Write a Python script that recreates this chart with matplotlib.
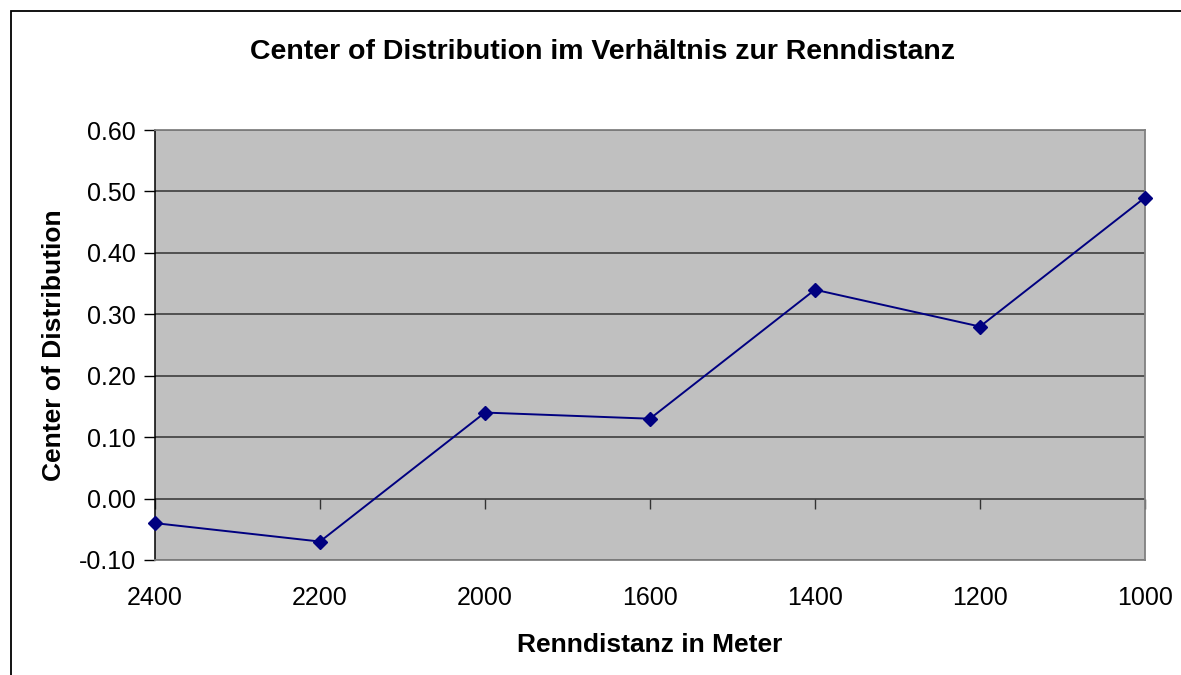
import matplotlib
matplotlib.use("Agg")
import matplotlib.pyplot as plt
from matplotlib.patches import Rectangle

# data
distances = ["2400", "2200", "2000", "1600", "1400", "1200", "1000"]
center = [-0.04, -0.07, 0.14, 0.13, 0.34, 0.28, 0.49]
y_ticks = [-0.1, 0.0, 0.1, 0.2, 0.3, 0.4, 0.5, 0.6]

plt.rcParams['font.family'] = ['Liberation Sans', 'DejaVu Sans']

fig = plt.figure(figsize=(11.81, 6.75), dpi=100)
ax = fig.add_axes([0.1312, 0.1704, 0.8383, 0.637])

# outer chart border (runs off the right and bottom edge)
fig.patches.append(Rectangle((11 / 1181, -0.1), 1.2, 1 - 11 / 675 + 0.1,
                             transform=fig.transFigure, fill=False,
                             edgecolor='black', linewidth=1.3))

ax.set_facecolor('#c0c0c0')
x = list(range(len(distances)))
ax.plot(x, center, color='#000080', linewidth=1.4, marker='D',
        markersize=7, markerfacecolor='#000080', markeredgecolor='#000080',
        clip_on=False, zorder=5)

ax.set_xlim(0, len(distances) - 1)
ax.set_ylim(-0.1, 0.6)
ax.set_yticks(y_ticks)
ax.set_yticklabels([f"{v:.2f}" for v in y_ticks])
ax.yaxis.grid(True, color='#333333', linewidth=1.1)
ax.set_axisbelow(True)

ax.set_xticks(x)
ax.set_xticklabels(distances)
ax.tick_params(axis='x', length=0, pad=19, labelsize=18)
ax.tick_params(axis='y', length=8, width=1, direction='out', labelsize=18, pad=6)

for side in ['top', 'right', 'bottom']:
    ax.spines[side].set_color('#808080')
    ax.spines[side].set_linewidth(1.3)
ax.spines['left'].set_color('black')
ax.spines['left'].set_linewidth(1.1)

# small category ticks sitting on the zero line
zero_pos = (0 - (-0.1)) / 0.7
sec = ax.secondary_xaxis(zero_pos)
sec.set_xticks(x)
sec.set_xticklabels([''] * len(x))
sec.tick_params(axis='x', length=7, width=1, direction='out', color='#333333')
sec.spines['bottom'].set_visible(False)

fig.text(602 / 1181, 1 - 52 / 675, "Center of Distribution im Verhältnis zur Renndistanz",
         fontsize=20.5, fontweight='bold', ha='center', va='center')
ax.set_xlabel("Renndistanz in Meter", fontsize=19, fontweight='bold', labelpad=16)
ax.set_ylabel("Center of Distribution", fontsize=19, fontweight='bold', labelpad=9)

fig.savefig("out.png", dpi=100)
